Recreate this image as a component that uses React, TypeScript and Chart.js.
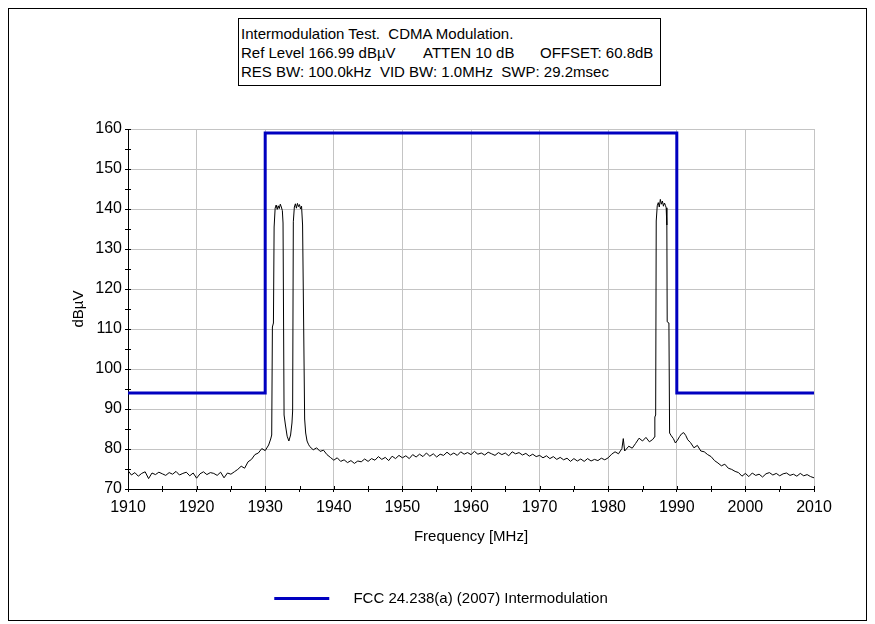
import React, { useEffect, useRef } from "react";
import { Chart, registerables } from "chart.js";

Chart.register(...registerables);

const FONT = '"Liberation Sans", Arial, sans-serif';

const titleLine1 = "Intermodulation Test.  CDMA Modulation.";
const titleLine2Parts = ["Ref Level 166.99 dBµV", "ATTEN 10 dB", "OFFSET: 60.8dB"];
const titleLine3 = "RES BW: 100.0kHz  VID BW: 1.0MHz  SWP: 29.2msec";

const xTitle = "Frequency [MHz]";
const yTitle = "dBµV";
const limitLabel = "FCC 24.238(a) (2007) Intermodulation";

const xMin = 1910;
const xMax = 2010;
const yMin = 70;
const yMax = 160;

// FCC limit line (MHz, dBµV)
const limitFreq = [1910, 1930, 1930, 1990, 1990, 2010];
const limitLevel = [94, 94, 159, 159, 94, 94];

// Measured trace: [frequency MHz, level dBµV]
const trace: number[][] = [
  [1910, 74.6], [1910.5, 73.5], [1911, 74.1], [1911.5, 73.2], [1912, 73.9], [1912.5, 74.3],
  [1913, 72.6], [1913.5, 74.0], [1914, 73.6], [1914.5, 74.2], [1915, 73.8], [1915.5, 73.4],
  [1916, 74.1], [1916.5, 73.7], [1917, 74.4], [1917.5, 73.5], [1918, 73.9], [1918.5, 74.2],
  [1919, 73.3], [1919.5, 74.0], [1920, 72.7], [1920.5, 73.8], [1921, 74.3], [1921.5, 73.6],
  [1922, 74.1], [1922.5, 73.9], [1923, 73.4], [1923.5, 74.2], [1924, 72.8], [1924.5, 74.0],
  [1925, 73.7], [1925.5, 74.3], [1926, 74.9], [1926.5, 75.7], [1927, 75.2], [1927.5, 76.8],
  [1928, 77.4], [1928.5, 78.6], [1929, 79.0], [1929.5, 80.1], [1930, 79.6], [1930.5, 81.0],
  [1930.8, 82.5], [1930.95, 83.5],
  [1931.05, 110.5], [1931.2, 111.5], [1931.3, 135.5], [1931.45, 140.2], [1931.6, 141.0],
  [1931.75, 139.9], [1931.9, 140.8], [1932.05, 140.1], [1932.2, 141.2], [1932.35, 140.5],
  [1932.5, 139.6], [1932.6, 136.5], [1932.75, 88.5], [1932.95, 86.0], [1933.2, 83.2],
  [1933.45, 82.0], [1933.7, 83.5], [1933.9, 86.5], [1934.0, 89.5], [1934.1, 136.8],
  [1934.25, 140.5], [1934.4, 141.3], [1934.55, 140.2], [1934.7, 141.4], [1934.85, 140.6],
  [1935.0, 141.1], [1935.15, 140.0], [1935.3, 140.7], [1935.45, 136.0], [1935.6, 112.0],
  [1935.75, 87.5], [1935.9, 84.0], [1936.1, 82.0], [1936.3, 81.2], [1936.5, 80.6],
  [1937, 79.8], [1937.5, 80.3], [1938, 79.4], [1938.5, 79.7], [1939, 78.6], [1939.5, 77.9],
  [1940, 77.2], [1940.5, 77.8], [1941, 76.9], [1941.5, 77.3], [1942, 76.6], [1942.5, 77.1],
  [1943, 76.4], [1943.5, 77.0], [1944, 76.8], [1944.5, 77.5], [1945, 76.9], [1945.5, 77.6],
  [1946, 77.2], [1946.5, 78.1], [1947, 77.4], [1947.5, 77.9], [1948, 77.1], [1948.5, 78.2],
  [1949, 77.6], [1949.5, 78.4], [1950, 77.8], [1950.5, 78.3], [1951, 77.6], [1951.5, 78.6],
  [1952, 78.0], [1952.5, 78.7], [1953, 78.1], [1953.5, 79.0], [1954, 78.2], [1954.5, 78.8],
  [1955, 78.0], [1955.5, 78.7], [1956, 78.4], [1956.5, 79.2], [1957, 78.5], [1957.5, 79.0],
  [1958, 78.4], [1958.5, 79.3], [1959, 78.7], [1959.5, 79.1], [1960, 78.6], [1960.5, 79.4],
  [1961, 78.7], [1961.5, 79.0], [1962, 78.5], [1962.5, 79.2], [1963, 78.8], [1963.5, 78.4],
  [1964, 79.1], [1964.5, 78.6], [1965, 79.0], [1965.5, 78.3], [1966, 79.3], [1966.5, 78.8],
  [1967, 79.1], [1967.5, 78.5], [1968, 78.9], [1968.5, 78.2], [1969, 78.7], [1969.5, 78.1],
  [1970, 78.4], [1970.5, 77.8], [1971, 78.3], [1971.5, 77.6], [1972, 78.1], [1972.5, 77.4],
  [1973, 77.9], [1973.5, 77.3], [1974, 77.7], [1974.5, 76.9], [1975, 77.6], [1975.5, 77.0],
  [1976, 77.5], [1976.5, 76.9], [1977, 77.6], [1977.5, 77.0], [1978, 77.4], [1978.5, 77.1],
  [1979, 77.7], [1979.5, 77.3], [1980, 77.8], [1980.5, 78.7], [1981, 79.3], [1981.5, 78.8],
  [1982, 80.1], [1982.2, 82.6], [1982.4, 79.5], [1983, 80.7], [1983.5, 80.2], [1984, 81.4],
  [1984.5, 82.7], [1985, 82.0], [1985.5, 82.9], [1986, 81.8], [1986.5, 82.4], [1986.75, 83.0],
  [1986.8, 88.0], [1986.92, 88.5], [1987.0, 137.0], [1987.15, 140.8], [1987.3, 141.6],
  [1987.45, 140.5], [1987.6, 142.4], [1987.75, 141.2], [1987.9, 142.0], [1988.05, 140.7],
  [1988.2, 141.5], [1988.35, 140.9], [1988.45, 140.3], [1988.55, 136.0], [1988.6, 111.8],
  [1988.85, 111.5], [1988.95, 84.0], [1989.2, 83.3], [1989.5, 82.6], [1989.8, 81.5],
  [1990.1, 82.2], [1990.4, 83.1], [1990.7, 83.8], [1991.0, 84.1], [1991.3, 83.4], [1991.6, 82.3],
  [1992, 81.6], [1992.5, 80.3], [1993, 80.9], [1993.5, 79.5], [1994, 79.3], [1994.5, 78.6],
  [1995, 78.1], [1995.5, 77.1], [1996, 76.5], [1996.5, 75.8], [1997, 76.2], [1997.5, 75.2],
  [1998, 74.9], [1998.5, 74.4], [1999, 74.1], [1999.5, 73.2], [2000, 73.9], [2000.5, 73.1],
  [2001, 74.0], [2001.5, 73.4], [2002, 73.7], [2002.5, 73.0], [2003, 73.8], [2003.5, 74.1],
  [2004, 73.5], [2004.5, 73.9], [2005, 73.3], [2005.5, 73.8], [2006, 74.0], [2006.5, 73.4],
  [2007, 73.7], [2007.5, 73.2], [2008, 73.9], [2008.5, 73.3], [2009, 73.6], [2009.5, 73.1],
  [2010, 72.8],
];

const BLUE = "#0000c0";
const GRID = "#c4c4c4";

const crossTicks = {
  id: "crossTicks",
  afterDraw(chart: any) {
    const { ctx, chartArea, scales } = chart;
    ctx.save();
    ctx.strokeStyle = "#000";
    ctx.lineWidth = 1;
    ctx.beginPath();
    for (const t of scales.y.ticks) {
      const p = Math.round(scales.y.getPixelForValue(t.value)) + 0.5;
      ctx.moveTo(chartArea.left, p);
      ctx.lineTo(chartArea.left + 3, p);
    }
    for (const t of scales.x.ticks) {
      const p = Math.round(scales.x.getPixelForValue(t.value)) + 0.5;
      ctx.moveTo(p, chartArea.bottom);
      ctx.lineTo(p, chartArea.bottom - 3);
    }
    ctx.stroke();
    ctx.restore();
  },
};

export default function App() {
  const ref = useRef<HTMLCanvasElement>(null);

  useEffect(() => {
    const chart = new Chart(ref.current as HTMLCanvasElement, {
      type: "line",
      data: {
        datasets: [
          {
            label: limitLabel,
            data: limitFreq.map((f, i) => ({ x: f, y: limitLevel[i] })),
            borderColor: BLUE,
            backgroundColor: BLUE,
            borderWidth: 3,
            pointRadius: 0,
            fill: false,
            tension: 0,
          },
          {
            label: "Trace",
            data: trace.map(([f, l]) => ({ x: f, y: l })),
            borderColor: "#000",
            backgroundColor: "#000",
            borderWidth: 1,
            pointRadius: 0,
            fill: false,
            tension: 0,
          },
        ],
      },
      options: {
        animation: false,
        responsive: false,
        maintainAspectRatio: false,
        layout: { padding: { left: 59, right: 52, top: 120, bottom: 4 } },
        scales: {
          x: {
            type: "linear",
            min: xMin,
            max: xMax,
            ticks: {
              stepSize: 5,
              autoSkip: false,
              maxRotation: 0,
              padding: 6,
              color: "#000",
              font: { family: FONT, size: 16 },
              callback: (v: any) => (Number(v) % 10 === 0 ? String(v) : ""),
            },
            grid: {
              color: (c: any) => (c.tick && c.tick.value % 10 === 0 ? GRID : "rgba(0,0,0,0)"),
              tickColor: "#000",
              tickLength: 3,
              lineWidth: 1,
            },
            border: { color: "#000", width: 1 },
            title: {
              display: true,
              text: xTitle,
              color: "#000",
              font: { family: FONT, size: 15 },
              padding: { top: 0, bottom: 35 },
            },
            afterFit: (s: any) => {
              s.height = 92;
            },
          },
          y: {
            type: "linear",
            min: yMin,
            max: yMax,
            ticks: {
              stepSize: 5,
              autoSkip: false,
              padding: 3,
              color: "#000",
              font: { family: FONT, size: 16 },
              callback: (v: any) => (Number(v) % 10 === 0 ? String(v) : ""),
            },
            grid: {
              color: (c: any) => (c.tick && c.tick.value % 10 === 0 ? GRID : "rgba(0,0,0,0)"),
              tickColor: "#000",
              tickLength: 3,
              lineWidth: 1,
            },
            border: { color: "#000", width: 1 },
            title: {
              display: true,
              text: yTitle,
              color: "#000",
              font: { family: FONT, size: 15 },
              padding: { top: 2, bottom: 0 },
            },
            afterFit: (s: any) => {
              s.width = 60;
            },
          },
        },
        plugins: {
          legend: {
            display: true,
            position: "bottom",
            labels: {
              color: "#000",
              font: { family: FONT, size: 15 },
              boxWidth: 55,
              boxHeight: 3,
              padding: 10,
              generateLabels: () => [
                {
                  text: "    " + limitLabel,
                  fillStyle: BLUE,
                  strokeStyle: BLUE,
                  lineWidth: 0,
                  hidden: false,
                  datasetIndex: 0,
                  fontColor: "#000",
                } as any,
              ],
            },
          },
          tooltip: { enabled: false },
        },
      } as any,
      plugins: [crossTicks],
    });
    return () => chart.destroy();
  }, []);

  const boxText: React.CSSProperties = {
    fontFamily: FONT,
    fontSize: 15,
    lineHeight: "19px",
    color: "#000",
    whiteSpace: "pre",
    height: 19,
    position: "relative",
  };

  return (
    <div
      style={{
        position: "relative",
        width: 857,
        height: 611,
        border: "1px solid #000",
        background: "#fff",
      }}
    >
      <canvas ref={ref} width={857} height={611} style={{ display: "block" }} />
      <div
        style={{
          position: "absolute",
          left: 229,
          top: 9,
          width: 423,
          height: 68,
          boxSizing: "border-box",
          border: "1px solid #000",
          padding: "5px 0 0 2px",
          background: "#fff",
        }}
      >
        <div style={boxText}>{titleLine1}</div>
        <div style={boxText}>
          <span style={{ position: "absolute", left: 0 }}>{titleLine2Parts[0]}</span>
          <span style={{ position: "absolute", left: 182 }}>{titleLine2Parts[1]}</span>
          <span style={{ position: "absolute", left: 299 }}>{titleLine2Parts[2]}</span>
        </div>
        <div style={boxText}>{titleLine3}</div>
      </div>
    </div>
  );
}
